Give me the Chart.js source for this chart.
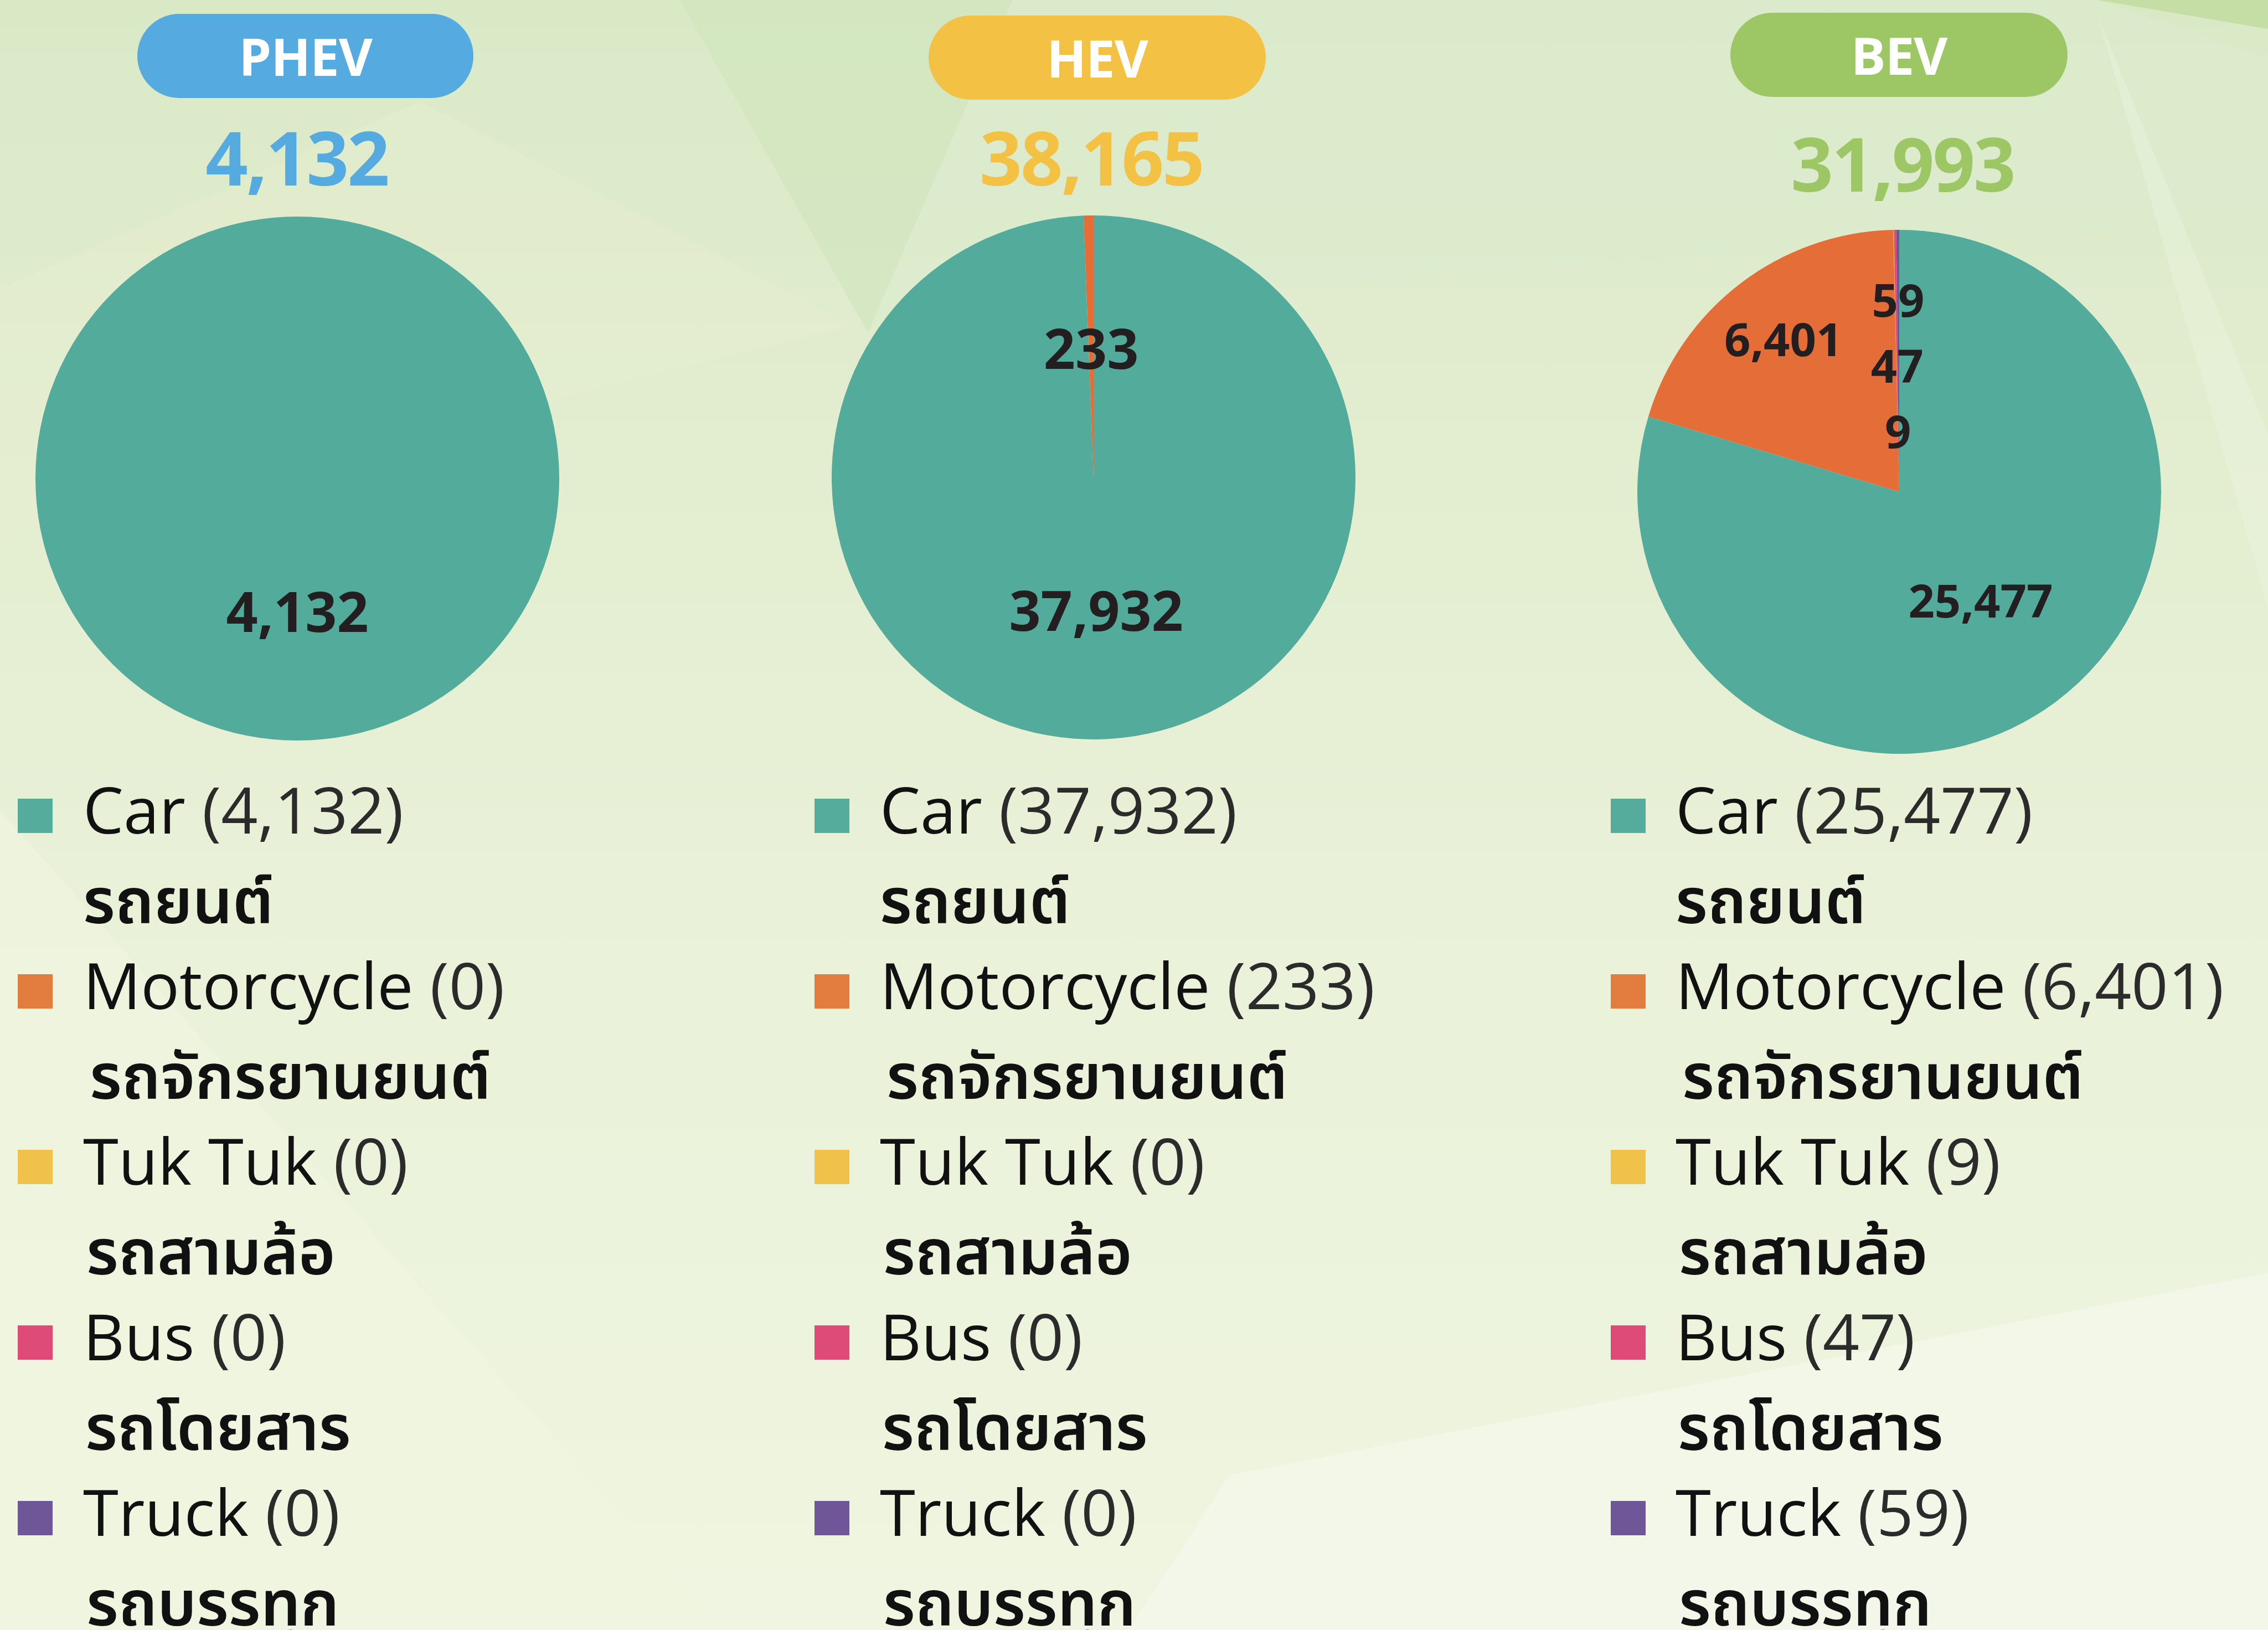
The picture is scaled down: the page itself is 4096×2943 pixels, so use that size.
<!DOCTYPE html>
<html>
<head>
<meta charset="utf-8">
<script src="https://cdn.jsdelivr.net/npm/chart.js@4.4.1/dist/chart.umd.min.js"></script>
<style>
  html, body { margin: 0; padding: 0; }
  body {
    width: 4096px; height: 2943px; position: relative; overflow: hidden;
    background: linear-gradient(180deg, #d9e9c6 0%, #e2edcf 25%, #eaf2d9 60%, #eff5e0 100%);
    font-family: "Open Sans", "Noto Sans Thai", "Noto Sans", sans-serif;
  }
  #bg { position: absolute; left: 0; top: 0; width: 4096px; height: 2943px; }
  .pill {
    position: absolute; color: #fff; font-weight: 700; font-size: 94px;
    display: flex; align-items: center; justify-content: center; border-radius: 76px;
    letter-spacing: -1px;
  }
  .total {
    position: absolute; font-weight: 700; font-size: 134px; letter-spacing: -3px;
    text-align: center; width: 800px; line-height: 1;
  }
  .pie { position: absolute; }
  .sq { position: absolute; width: 63px; height: 62px; }
  .lbl { position: absolute; white-space: pre; line-height: 1; font-size: 116px; color: #111; }
  .lbl .num { color: #2b2b2b; }
  .thai { position: absolute; white-space: pre; line-height: 1; font-size: 114px; font-weight: 600; color: #111;
    font-family: "Noto Sans Thai", "Noto Sans", sans-serif; }
</style>
</head>
<body>
<svg id="bg" viewBox="0 0 1568 1127" preserveAspectRatio="none">
  <polygon points="470,0 700,0 600,230" fill="#cfe5bd" opacity="0.6"/>
  <polygon points="290,70 590,225 0,370 0,200" fill="#e6eecf" opacity="0.5"/>
  <polygon points="700,0 1450,0 1568,40 1568,150 820,200 600,230" fill="#dcebd0" opacity="0.5"/>
  <polygon points="1450,0 1568,0 1568,20" fill="#c4dea6"/>
  <polygon points="1450,10 1568,300 1568,420" fill="#eef5e3" opacity="0.35"/>
  <polygon points="850,1020 1568,880 1568,1127 780,1127" fill="#f4f8ec" opacity="0.7"/>
  <polygon points="0,560 500,1127 0,1127" fill="#f1f5e2" opacity="0.5"/>
</svg>

<script>
/* data */
const groups = ['PHEV', 'HEV', 'BEV'];
const categories = ['Car', 'Motorcycle', 'Tuk Tuk', 'Bus', 'Truck'];
const categoriesThai = ['รถยนต์', 'รถจักรยานยนต์', 'รถสามล้อ', 'รถโดยสาร', 'รถบรรทุก'];
const phevValues = [4132, 0, 0, 0, 0];
const hevValues = [37932, 233, 0, 0, 0];
const bevValues = [25477, 6401, 9, 47, 59];
const seriesValues = [phevValues, hevValues, bevValues];

/* colours */
const groupColors = ['#55aadf', '#f3c244', '#9dc764'];
const sliceColors = ['#52ab9b', '#e56d38', '#f1c14a', '#de4b78', '#6e5699'];
const squareColors = ['#55ac9c', '#e37d3f', '#f0c24a', '#de4b78', '#6e5699'];

/* layout of each column (output px) */
const columns = [
    { pill: [248, 25, 607, 152], totalX: 536, totalTop: 216, pie: [537, 864], sqX: 32, textX: 150,
      labelSize: 100, labelRadius: [0.51, 0.5, 0.5, 0.5, 0.5] },
    { pill: [1677, 28, 609, 152], totalX: 1971, totalTop: 216, pie: [1975, 862], sqX: 1471, textX: 1589,
      labelSize: 100, labelRadius: [0.51, 0.49, 0.5, 0.5, 0.5] },
    { pill: [3125, 23, 609, 152], totalX: 3436, totalTop: 227, pie: [3430, 888], sqX: 2909, textX: 3026,
      labelSize: 83, labelRadius: [0.52, 0.73, 0.23, 0.48, 0.73] }
];
const thaiIndent = [0, 12, 6, 4, 6];
const pieRadius = 473;
const firstBaseline = 1505;
const lineStep = 158.5;

/* draws the numbers inside the slices */
const sliceLabels = {
    id: 'sliceLabels',
    afterDatasetsDraw(chart, args, opts) {
        const ctx = chart.ctx;
        const meta = chart.getDatasetMeta(0);
        const data = chart.data.datasets[0].data;
        ctx.save();
        ctx.font = '700 ' + opts.size + 'px "Open Sans"';
        ctx.fillStyle = '#231f20';
        ctx.textAlign = 'center';
        ctx.textBaseline = 'alphabetic';
        meta.data.forEach((arc, i) => {
            if (!data[i]) return;
            const p = arc.getProps(['x', 'y', 'startAngle', 'endAngle', 'outerRadius'], true);
            const mid = (p.startAngle + p.endAngle) / 2;
            const r = p.outerRadius * opts.radius[i];
            const cx = p.x + Math.cos(mid) * r;
            const cy = p.y + Math.sin(mid) * r;
            ctx.fillText(data[i].toLocaleString('en-US'), cx, cy + opts.size * 0.714 / 2);
        });
        ctx.restore();
    }
};

function addDiv(cls, css, html) {
    const d = document.createElement('div');
    d.className = cls;
    Object.assign(d.style, css);
    d.innerHTML = html;
    document.body.appendChild(d);
    return d;
}

groups.forEach((g, k) => {
    const col = columns[k];
    const values = seriesValues[k];
    const total = values.reduce((a, b) => a + b, 0);

    // header pill and total
    addDiv('pill', { left: col.pill[0] + 'px', top: col.pill[1] + 'px', width: col.pill[2] + 'px',
        height: col.pill[3] + 'px', background: groupColors[k] }, g);
    addDiv('total', { left: (col.totalX - 400) + 'px', top: col.totalTop + 'px', color: groupColors[k] },
        total.toLocaleString('en-US'));

    // pie
    const canvas = document.createElement('canvas');
    canvas.className = 'pie';
    canvas.width = pieRadius * 2;
    canvas.height = pieRadius * 2;
    Object.assign(canvas.style, { left: (col.pie[0] - pieRadius) + 'px', top: (col.pie[1] - pieRadius) + 'px',
        width: pieRadius * 2 + 'px', height: pieRadius * 2 + 'px' });
    document.body.appendChild(canvas);
    new Chart(canvas.getContext('2d'), {
        type: 'pie',
        data: {
            labels: categories,
            datasets: [{
                data: values,
                backgroundColor: sliceColors,
                borderWidth: 0,
                hoverOffset: 0,
                offset: 0
            }]
        },
        options: {
            responsive: false,
            animation: false,
            layout: { padding: 0 },
            plugins: {
                legend: { display: false },
                tooltip: { enabled: false },
                sliceLabels: { size: col.labelSize, radius: col.labelRadius }
            }
        },
        plugins: [sliceLabels]
    });

    // legend: English line then Thai line
    categories.forEach((c, i) => {
        const base = firstBaseline + lineStep * 2 * i;
        addDiv('sq', { left: col.sqX + 'px', top: (base - 63) + 'px', background: squareColors[i] }, '');
        addDiv('lbl', { left: col.textX + 'px', top: (base - 0.888 * 116) + 'px' },
            c + ' <span class="num">(' + values[i].toLocaleString('en-US') + ')</span>');
        addDiv('thai', { left: (col.textX + thaiIndent[i]) + 'px', top: (base + lineStep + 13 - 0.888 * 114) + 'px' },
            categoriesThai[i]);
    });
});
</script>
</body>
</html>
